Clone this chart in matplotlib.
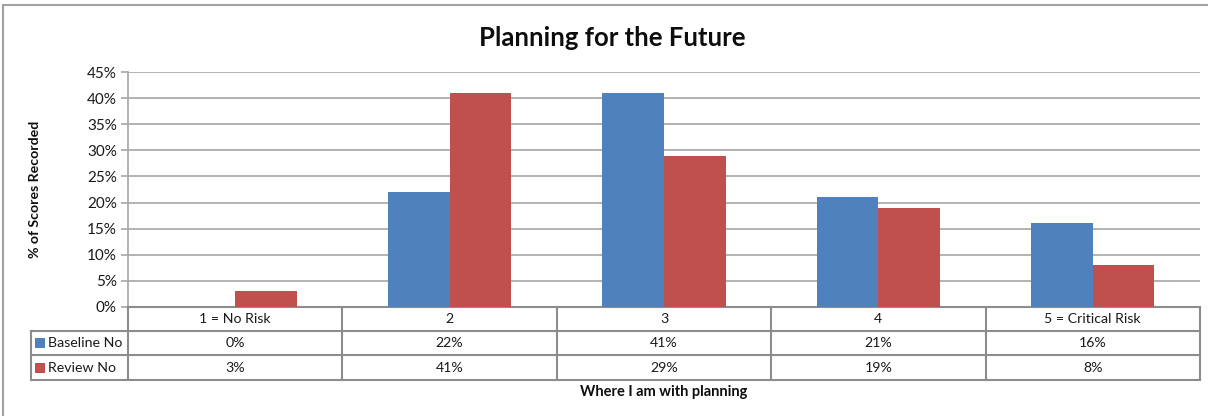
import matplotlib
matplotlib.use("Agg")
import matplotlib.pyplot as plt
import matplotlib.transforms as mtransforms
from matplotlib.patches import Rectangle
from matplotlib.lines import Line2D
import numpy as np

plt.rcParams["font.family"] = ["Lato", "DejaVu Sans"]

# ── data ─────────────────────────────────────────────────────────────────────
categories = ["1 = No Risk", "2", "3", "4", "5 = Critical Risk"]
series_names = ["Baseline No", "Review No"]
baseline = [0, 22, 41, 21, 16]
review = [3, 41, 29, 19, 8]
series_colors = ["#4F81BD", "#C0504D"]

W, H = 1208, 416
GRID = "#A6A6A6"
EDGE = "#8C8C8C"
TXT = "#1A1A1A"


def fx(px):
    return px / W


def fy(py):
    return 1 - py / H


fig = plt.figure(figsize=(W / 100, H / 100), dpi=100)
fig.patch.set_facecolor("white")

# outer chart border (runs off the right/bottom edge)
fig.add_artist(Rectangle((fx(3), -0.05), 1.05, fy(5) + 0.05, transform=fig.transFigure,
                         fill=False, edgecolor="#A0A0A0", linewidth=1.5))

left, right, top, bottom = 128, 1200, 72, 307
ax = fig.add_axes([fx(left), fy(bottom), fx(right - left), fy(top) - fy(bottom)])

x = np.arange(len(categories)) + 0.5
bw = 0.287
for i, (vals, col) in enumerate(zip([baseline, review], series_colors)):
    ax.bar(x + (i - 0.5) * bw, vals, width=bw, color=col, zorder=3)

ax.set_xlim(0, len(categories))
ax.set_ylim(0, 45)
ax.set_yticks(np.arange(0, 46, 5))
ax.set_yticklabels([f"{v}%" for v in range(0, 46, 5)], fontsize=11, color=TXT)
ax.set_xticks([])
ax.tick_params(axis="y", length=5, width=1.2, color=GRID, pad=3)
ax.yaxis.grid(True, color=GRID, linewidth=1.2, zorder=0)
for side in ["top", "right"]:
    ax.spines[side].set_visible(False)
ax.spines["left"].set_color(GRID)
ax.spines["left"].set_linewidth(1.2)
ax.spines["bottom"].set_color(EDGE)
ax.spines["bottom"].set_linewidth(1.5)

# ── data table under the plot ────────────────────────────────────────────────
row_edges = [307, 331, 355, 380]
legend_left = 31
tf = fig.transFigure
mix = mtransforms.blended_transform_factory(ax.transData, fig.transFigure)

for py in row_edges[1:]:
    fig.add_artist(Line2D([fx(legend_left), fx(right)], [fy(py)] * 2, transform=tf,
                          color=EDGE, linewidth=1.5))
fig.add_artist(Line2D([fx(legend_left)] * 2, [fy(row_edges[1]), fy(row_edges[3])],
                      transform=tf, color=EDGE, linewidth=1.5))
for xb in range(len(categories) + 1):
    fig.add_artist(Line2D([xb, xb], [fy(row_edges[0]), fy(row_edges[3])], transform=mix,
                          color=EDGE, linewidth=1.5))

row_mid = [(row_edges[k] + row_edges[k + 1]) / 2 for k in range(3)]
for xc, cat in zip(x, categories):
    fig.text(xc, fy(row_mid[0]), cat, transform=mix, ha="center", va="center",
             fontsize=10.2, color=TXT)
for r, (name, vals, col) in enumerate(zip(series_names, [baseline, review], series_colors)):
    ym = fy(row_mid[r + 1])
    fig.add_artist(Rectangle((fx(35), ym - 5 / H), 10 / W, 10 / H, transform=tf,
                             facecolor=col, edgecolor="none"))
    fig.text(fx(48), ym, name, ha="left", va="center", fontsize=10.2, color=TXT)
    for xc, v in zip(x, vals):
        fig.text(xc, ym, f"{v}%", transform=mix, ha="center", va="center",
                 fontsize=10.2, color=TXT)

# ── titles ───────────────────────────────────────────────────────────────────
fig.text(fx(612), fy(38), "Planning for the Future", ha="center", va="center",
         fontsize=18.5, fontweight="bold", color="#0D0D0D")
fig.text(fx(35), fy(189), "% of Scores Recorded", ha="center", va="center",
         rotation=90, fontsize=10.2, fontweight="bold", color="#0D0D0D")
fig.text(fx(664), fy(392), "Where I am with planning", ha="center", va="center",
         fontsize=10.5, fontweight="bold", color="#0D0D0D")

fig.savefig("out.png", dpi=100, facecolor="white")
